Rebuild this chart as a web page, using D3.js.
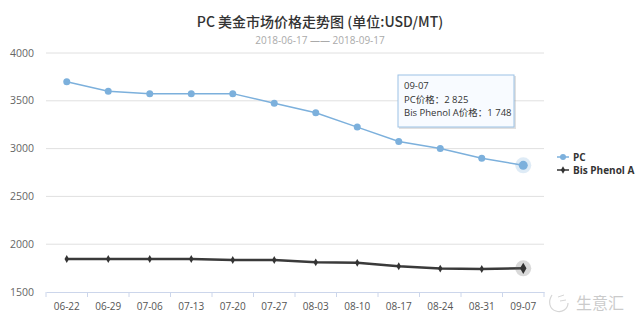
<!DOCTYPE html>
<html><head><meta charset="utf-8">
<script src="https://cdn.jsdelivr.net/npm/d3@7"></script>
<style>
body{margin:0;background:#fff;}
svg{display:block;font-family:"Open Sans","Noto Sans CJK SC",sans-serif;}
</style></head>
<body><svg id="c" width="640" height="332"></svg>
<script>
const categories = ["06-22","06-29","07-06","07-13","07-20","07-27","08-03","08-10","08-17","08-24","08-31","09-07"];
const pcValues = [3700,3600,3575,3575,3575,3475,3375,3225,3075,3000,2900,2825];
const bpaValues = [1845,1845,1845,1845,1835,1835,1810,1805,1770,1745,1740,1748];
const yTicks = [1500,2000,2500,3000,3500,4000];
const seriesNames = ["PC","Bis Phenol A"];
const titleText = "PC 美金市场价格走势图 (单位:USD/MT)";
const subtitleText = "2018-06-17 —— 2018-09-17";

const svg = d3.select("#c");
const x = d3.scaleBand().domain(categories).range([46,544]);
const y = d3.scaleLinear().domain([1500,4000]).range([292,53]);

// title
svg.append("text").attr("x",320).attr("y",27).attr("text-anchor","middle")
  .attr("font-size",14).attr("font-weight",500).attr("fill","#333").attr("font-family","'Noto Sans CJK SC',sans-serif").text(titleText);
svg.append("text").attr("x",320).attr("y",44).attr("text-anchor","middle")
  .attr("font-size",10).attr("fill","#aaa").text(subtitleText);

// grid
svg.append("g").selectAll("line").data(yTicks.filter(d=>d>1500)).join("line")
  .attr("x1",46).attr("x2",544).attr("y1",d=>y(d)).attr("y2",d=>y(d))
  .attr("stroke","#e0e0e0").attr("stroke-width",1);

// y labels
svg.append("g").selectAll("text").data(yTicks).join("text")
  .attr("x",10).attr("y",d=>y(d)+3.5).attr("font-size",10.5).attr("fill","#666").text(d=>d);

// x axis
const xa = svg.append("g").attr("transform","translate(0,292)")
  .call(d3.axisBottom(x).tickSize(0).tickPadding(11));
xa.select(".domain").attr("stroke","#ccd6eb");
xa.selectAll("text").attr("font-size",10).attr("fill","#555").attr("font-family","'Open Sans',sans-serif");
xa.append("g").selectAll("line").data(categories.concat(["end"])).join("line")
  .attr("x1",(d,i)=>46+i*x.step()).attr("x2",(d,i)=>46+i*x.step())
  .attr("y1",0).attr("y2",5).attr("stroke","#ccd6eb");

const cx = d => x(d)+x.bandwidth()/2;
const line = d3.line().x((d,i)=>cx(categories[i])).y(d=>y(d));

// PC
svg.append("path").datum(pcValues).attr("d",line).attr("fill","none")
  .attr("stroke","#7cb0dc").attr("stroke-width",1.5);
svg.append("circle").attr("cx",cx(categories[11])).attr("cy",y(pcValues[11])).attr("r",8)
  .attr("fill","#7cb0dc").attr("opacity",0.25);
svg.append("g").selectAll("circle").data(pcValues).join("circle")
  .attr("cx",(d,i)=>cx(categories[i])).attr("cy",d=>y(d)).attr("r",(d,i)=>i===11?4.5:3.5)
  .attr("fill","#7cb0dc");

// BPA
svg.append("path").datum(bpaValues).attr("d",line).attr("fill","none")
  .attr("stroke","#3a3a3a").attr("stroke-width",2.5);
svg.append("circle").attr("cx",cx(categories[11])).attr("cy",y(bpaValues[11])).attr("r",8)
  .attr("fill","#666").attr("opacity",0.25);
svg.append("g").selectAll("path").data(bpaValues).join("path")
  .attr("transform",(d,i)=>`translate(${cx(categories[i])},${y(d)})`)
  .attr("d",(d,i)=>d3.symbol(d3.symbolDiamond, i===11?36:18)()).attr("fill","#333");

// tooltip
const tt = svg.append("g").attr("transform","translate(398,75)");
tt.append("rect").attr("x",1).attr("y",1).attr("width",117).attr("height",53).attr("fill","#999").attr("opacity",0.3);
tt.append("rect").attr("width",116).attr("height",52).attr("fill","#f8fbff").attr("stroke","#9cc2e5").attr("stroke-width",1);
const ttLines = [categories[11], `${seriesNames[0]}价格：${d3.format(",")(pcValues[11]).replace(","," ")}`, `${seriesNames[1]}价格：${d3.format(",")(bpaValues[11]).replace(","," ")}`];
tt.selectAll("text").data(ttLines).join("text").attr("x",6).attr("y",(d,i)=>14+i*13.5)
  .attr("font-size",9.5).attr("fill","#333").text(d=>d);

// legend
const lg = svg.append("g").attr("transform","translate(557,157)");
lg.append("line").attr("x1",0).attr("x2",12).attr("y1",0).attr("y2",0).attr("stroke","#7cb0dc").attr("stroke-width",1.5);
lg.append("circle").attr("cx",6).attr("cy",0).attr("r",3).attr("fill","#7cb0dc");
lg.append("text").attr("x",16).attr("y",3.5).attr("font-size",10).attr("font-weight","bold").attr("fill","#333").text(seriesNames[0]);
lg.append("line").attr("x1",0).attr("x2",12).attr("y1",13).attr("y2",13).attr("stroke","#333").attr("stroke-width",1.5);
lg.append("path").attr("transform","translate(6,13)").attr("d",d3.symbol(d3.symbolDiamond,16)()).attr("fill","#333");
lg.append("text").attr("x",16).attr("y",16.5).attr("font-size",10).attr("font-weight","bold").attr("fill","#333").text(seriesNames[1]);

// watermark
const wm = svg.append("g").attr("transform","translate(546,293)").attr("opacity",0.6);
wm.append("path").attr("d","M6,2 C2,8 3,16 10,18 C16,20 22,16 22,10").attr("fill","none").attr("stroke","#bbb").attr("stroke-width",1.2);
wm.append("path").attr("d","M12,4 L18,2 M14,8 L20,7").attr("fill","none").attr("stroke","#bbb").attr("stroke-width",1);
wm.append("text").attr("x",30).attr("y",16).attr("font-size",16).attr("fill","#aaa")
  .attr("font-family","'Noto Sans CJK SC',sans-serif").text("生意汇");
</script></body></html>
